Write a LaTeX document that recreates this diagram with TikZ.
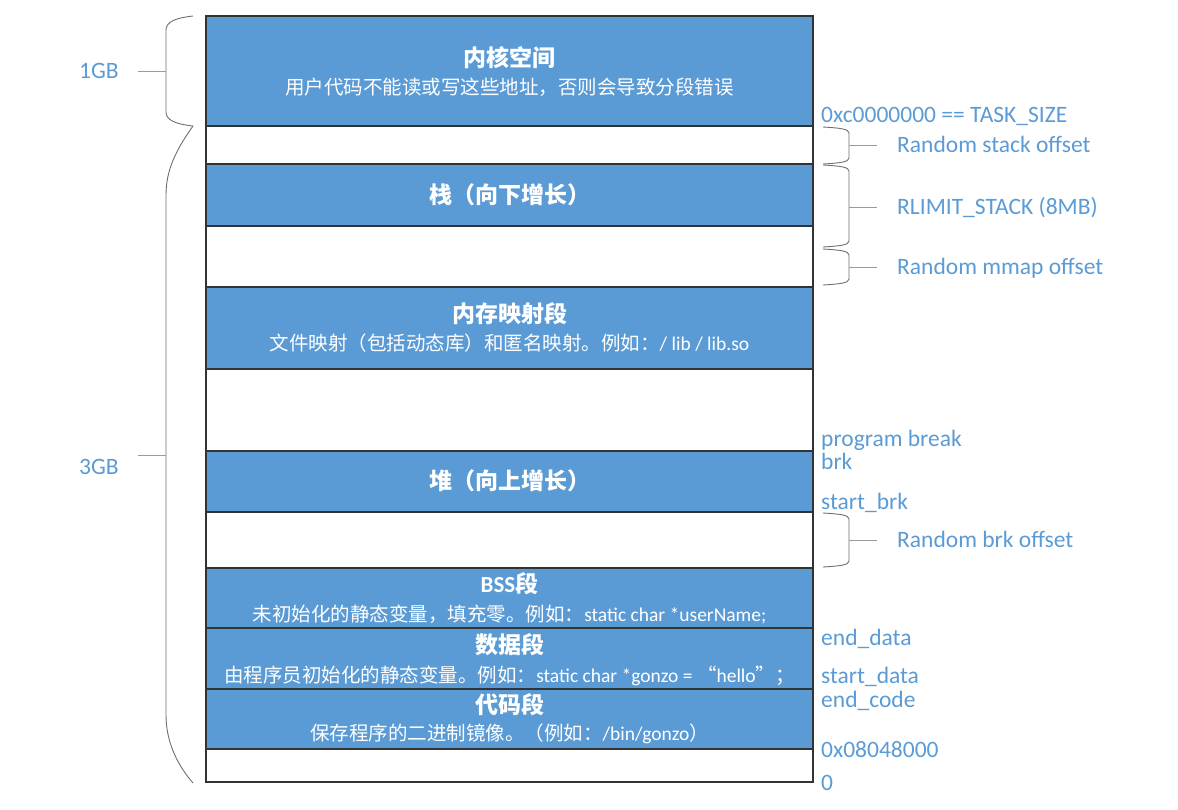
\documentclass[tikz,border=0pt]{standalone}
\usepackage{fontspec}
\setmainfont{Carlito}
\newfontfamily\cjk{Noto Sans CJK SC}
\definecolor{ob}{HTML}{5B9BD5}
\definecolor{bord}{HTML}{333333}
\definecolor{brc}{HTML}{6F6F6F}
\definecolor{tkc}{HTML}{9A9A9A}
\newcommand\mybrace[4]{% top, bottom, mid, name
  \draw[brace] (823,#1) .. controls (840,#1+1) and (849,#1+2) .. (849,#1+6) -- (849,#2-6)
    .. controls (849,#2-2) and (840,#2-1) .. (823,#2);
  \draw[tick] (849,#3) -- (877,#3);
  \node[lbl, anchor=base west] (#4) at (897,#3+7) {\csname lab#4\endcsname};}
\begin{document}
\begin{tikzpicture}[x=1pt,y=-1pt,
  seg/.style={draw=bord, line width=1.1pt, minimum width=607pt, anchor=north west, inner sep=0pt, outer sep=0pt},
  segb/.style={seg, fill=ob},
  segw/.style={seg, fill=white},
  ttl/.style={text=white, font=\fontsize{23}{23}\selectfont\bfseries, inner sep=0pt},
  sub/.style={text=white, font=\fontsize{19.5}{19.5}\selectfont, inner sep=0pt},
  lbl/.style={text=ob, font=\fontsize{23.5}{23.5}\selectfont, inner sep=0pt},
  brace/.style={draw=brc, line width=0.9pt},
  tick/.style={draw=tkc, line width=0.9pt}]
\useasboundingbox (0,0) rectangle (1178,809);
% segments
\node[segb, minimum height=110pt] (kern) at (206,16) {};
\node[segw, minimum height=38pt] (g1) at (206,126) {};
\node[segb, minimum height=62pt] (stack) at (206,164) {};
\node[segw, minimum height=61pt] (g2) at (206,226) {};
\node[segb, minimum height=82pt] (mmap) at (206,287) {};
\node[segw, minimum height=82pt] (g3) at (206,369) {};
\node[segb, minimum height=61pt] (heap) at (206,451) {};
\node[segw, minimum height=56pt] (g4) at (206,512) {};
\node[segb, minimum height=60pt] (bss) at (206,568) {};
\node[segb, minimum height=61pt] (data) at (206,628) {};
\node[segb, minimum height=60pt] (code) at (206,689) {};
\node[segw, minimum height=33pt] (g5) at (206,749) {};
% texts in segments
\node[ttl] (kt) at (509.5,58) {\cjk 内核空间};
\node[sub] (ks) at (509.5,87) {\cjk 用户代码不能读或写这些地址，否则会导致分段错误};
\node[ttl] (st) at (509.5,195) {\cjk 栈（向下增长）};
\node[ttl] (mt) at (509.5,314) {\cjk 内存映射段};
\node[sub] (ms) at (509.5,343) {{\cjk 文件映射（包括动态库）和匿名映射。例如：}/ lib / lib.so};
\node[ttl] (ht) at (509.5,481) {\cjk 堆（向上增长）};
\node[ttl] (bt) at (509.5,584) {BSS{\cjk 段}};
\node[sub] (bs) at (509.5,614) {{\cjk 未初始化的静态变量，填充零。例如：}static char *userName;};
\node[ttl] (dt) at (509.5,645) {\cjk 数据段};
\node[sub] (ds) at (509.5,676) {{\cjk 由程序员初始化的静态变量。例如：}static char *gonzo = {\cjk “}hello{\cjk ”；}};
\node[ttl] (ct) at (509.5,705) {\cjk 代码段};
\node[sub] (cs) at (509.5,734) {{\cjk 保存程序的二进制镜像。（例如：}/bin/gonzo{\cjk ）}};
% left braces
\draw[brace] (193,16) .. controls (175,18) and (166,22) .. (166,30) -- (166,112)
  .. controls (166,120) and (175,124) .. (193,126);
\draw[tick] (166,71) -- (138,71);
\node[lbl, anchor=base west] (gb1) at (79,78) {1GB};
\draw[brace] (193,126) .. controls (176,150) and (166,170) .. (166,195) -- (166,715)
  .. controls (166,745) and (180,768) .. (193,783);
\draw[tick] (166,455) -- (138,455);
\node[lbl, anchor=base west] (gb3) at (79,474) {3GB};
% right labels
\node[lbl, anchor=base west] (task) at (821,122) {0xc0000000 == TASK\_SIZE};
\node[lbl, anchor=base west] (pbrk) at (821,446) {program break};
\node[lbl, anchor=base west] (brk) at (821,469) {brk};
\node[lbl, anchor=base west] (sbrk) at (821,509) {start\_brk};
\node[lbl, anchor=base west] (edata) at (821,645) {end\_data};
\node[lbl, anchor=base west] (sdata) at (821,683) {start\_data};
\node[lbl, anchor=base west] (ecode) at (821,707) {end\_code};
\node[lbl, anchor=base west] (base) at (821,757) {0x08048000};
\node[lbl, anchor=base west] (zero) at (821,790) {0};
% right braces
\def\labrso{Random stack offset}
\def\labrls{RLIMIT\_STACK (8MB)}
\def\labrmo{Random mmap offset}
\def\labrbo{Random brk offset}
\mybrace{127}{164}{145}{rso}
\mybrace{165}{247}{207}{rls}
\mybrace{249}{285}{267}{rmo}
\mybrace{513}{567}{540}{rbo}
\end{tikzpicture}
\end{document}
